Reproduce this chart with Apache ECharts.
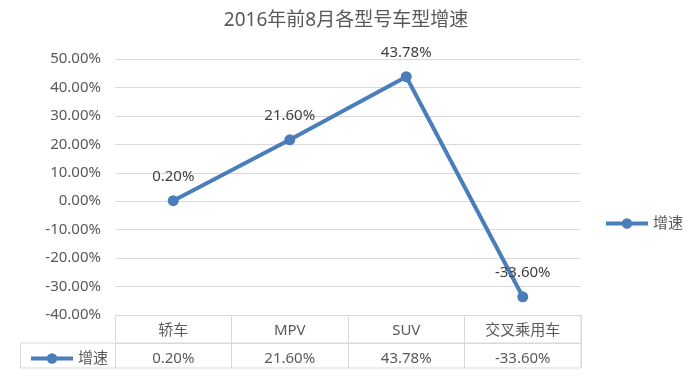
<!DOCTYPE html>
<html><head><meta charset="utf-8">
<script src="https://cdn.jsdelivr.net/npm/echarts@6/dist/echarts.min.js"></script>
<style>html,body{margin:0;padding:0;background:#fff}#c{width:692px;height:378px}</style>
</head><body><div id="c"></div>
<script>
const titleText = '2016年前8月各型号车型增速';
const seriesName = '增速';
const categories = ['轿车', 'MPV', 'SUV', '交叉乘用车'];
const growth = [0.0020, 0.2160, 0.4378, -0.3360];
const yMin = -0.4, yMax = 0.5, yStep = 0.1;

const FONT = '"Noto Sans", "Noto Sans CJK SC", sans-serif';
const BLUE = '#4a7ebb';
const GRID = '#d9d9d9';
const TXT = '#595959';
const pct = v => (v * 100).toFixed(2) + '%';

const chart = echarts.init(document.getElementById('c'), null, {renderer: 'canvas'});
const legendCommon = {data: [seriesName], itemWidth: 42, itemHeight: 13, itemGap: 6,
  lineStyle: {width: 4}, textStyle: {fontSize: 15, color: TXT, fontFamily: FONT}};
const option = {
  backgroundColor: '#fff',
  animation: false,
  textStyle: {fontFamily: FONT},
  title: {text: titleText, left: 'center', top: 6,
    textStyle: {fontSize: 19, fontWeight: 'normal', color: TXT, fontFamily: FONT}},
  grid: {left: 115, right: 111, top: 59, bottom: 63},
  legend: [
    Object.assign({right: 4, top: 211}, legendCommon),
    Object.assign({left: 24, top: 346}, legendCommon)
  ],
  xAxis: [
    {type: 'category', data: categories, position: 'bottom', boundaryGap: true,
     axisLine: {onZero: false, lineStyle: {color: GRID, width: 1}},
     axisTick: {show: true, length: 53, lineStyle: {color: GRID, width: 1}},
     axisLabel: {margin: 8, fontSize: 15, color: TXT, fontFamily: FONT}},
    {type: 'category', data: growth.map(pct), position: 'bottom', offset: 28, boundaryGap: true,
     axisLine: {show: true, onZero: false, lineStyle: {color: GRID, width: 1}},
     axisTick: {show: false},
     axisLabel: {margin: 8, fontSize: 15, color: TXT, fontFamily: FONT}}
  ],
  yAxis: {type: 'value', min: yMin, max: yMax, interval: yStep,
    axisLine: {show: false}, axisTick: {show: false},
    splitLine: {lineStyle: {color: GRID, width: 1}},
    axisLabel: {margin: 14, fontSize: 15, color: TXT, fontFamily: FONT, formatter: v => pct(v)}},
  series: [{
    name: seriesName, type: 'line', data: growth, xAxisIndex: 0,
    symbol: 'circle', symbolSize: 11,
    lineStyle: {color: BLUE, width: 4}, itemStyle: {color: BLUE},
    label: {show: true, position: 'top', distance: 11, fontSize: 15, color: '#404040',
      fontFamily: FONT, formatter: p => pct(p.value)}
  }]
};
chart.setOption(option);

// table borders computed from the axis scale
const x0 = chart.convertToPixel({xAxisIndex: 0}, 0);
const x1 = chart.convertToPixel({xAxisIndex: 0}, 1);
const half = (x1 - x0) / 2;
const right = chart.convertToPixel({xAxisIndex: 0}, categories.length - 1) + half;
const yBase = chart.convertToPixel({yAxisIndex: 0}, yMin);
const rowH = 28;
const ls = {stroke: GRID, lineWidth: 1};
chart.setOption({graphic: [
  {type: 'line', shape: {x1: 20, y1: yBase + rowH, x2: right, y2: yBase + rowH}, style: ls, silent: true},
  {type: 'line', shape: {x1: 20, y1: yBase + 53, x2: right, y2: yBase + 53}, style: ls, silent: true},
  {type: 'line', shape: {x1: 20.5, y1: yBase + rowH, x2: 20.5, y2: yBase + 53}, style: ls, silent: true},
  {type: 'line', shape: {x1: right, y1: yBase, x2: right, y2: yBase + 53}, style: ls, silent: true}
]});
</script></body></html>
